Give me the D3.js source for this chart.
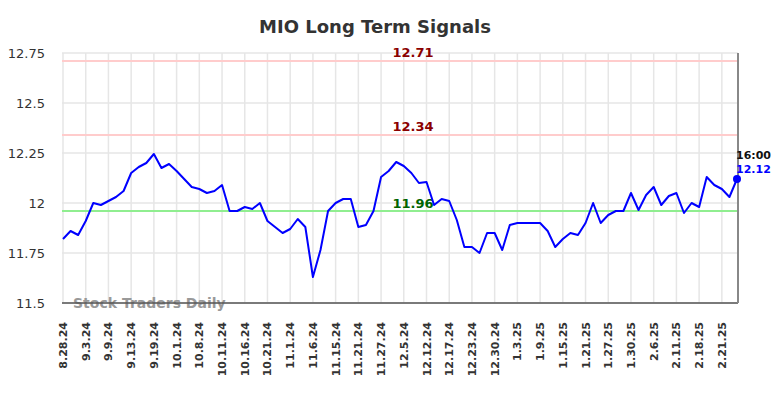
<!DOCTYPE html>
<html>
<head>
<meta charset="utf-8">
<script src="https://cdn.jsdelivr.net/npm/d3@7"></script>
<style>
  body { margin: 0; background: #fff; }
  svg { display: block; font-family: "DejaVu Sans", sans-serif; }
</style>
</head>
<body>
<div id="chart"></div>
<script>
// MIO long term signals, one line + three signal levels

const tickLabels = [
  "8.28.24", "9.3.24", "9.9.24", "9.13.24", "9.19.24", "10.1.24", "10.8.24", "10.11.24",
  "10.16.24", "10.21.24", "11.1.24", "11.6.24", "11.15.24", "11.21.24", "11.27.24",
  "12.5.24", "12.12.24", "12.17.24", "12.23.24", "12.30.24", "1.3.25", "1.9.25",
  "1.15.25", "1.21.25", "1.27.25", "1.30.25", "2.6.25", "2.11.25", "2.18.25", "2.21.25"
];
const tickEvery = 3; // one label per 3 sessions

const prices = [
  11.82, 11.86, 11.84, 11.91, 12.00, 11.99, 12.01, 12.03, 12.06, 12.15,
  12.18, 12.20, 12.245, 12.175, 12.195, 12.16, 12.12, 12.08, 12.07, 12.05,
  12.06, 12.09, 11.96, 11.96, 11.98, 11.97, 12.00, 11.91, 11.88, 11.85,
  11.87, 11.92, 11.88, 11.63, 11.765, 11.96, 12.00, 12.02, 12.02, 11.88,
  11.89, 11.96, 12.13, 12.16, 12.205, 12.185, 12.15, 12.10, 12.105, 11.99,
  12.02, 12.01, 11.915, 11.78, 11.78, 11.75, 11.85, 11.85, 11.765, 11.89,
  11.90, 11.90, 11.90, 11.90, 11.86, 11.78, 11.82, 11.85, 11.84, 11.90,
  12.00, 11.90, 11.94, 11.96, 11.96, 12.05, 11.965, 12.04, 12.08, 11.99,
  12.035, 12.05, 11.95, 12.00, 11.98, 12.13, 12.09, 12.07, 12.03, 12.12
];

const resistLevels = [12.71, 12.34];
const supportLevels = [11.96];
const yTicks = [11.5, 11.75, 12, 12.25, 12.5, 12.75];
const lastTime = "16:00";

const width = 784, height = 398;
const margin = { top: 53, right: 47, bottom: 95, left: 63 };

const svg = d3.select("#chart").append("svg")
  .attr("width", width)
  .attr("height", height);

const x = d3.scaleLinear()
  .domain([0, prices.length - 1])
  .range([margin.left, width - margin.right]);

const y = d3.scaleLinear()
  .domain([11.5, 12.75])
  .range([height - margin.bottom, margin.top]);

const plotL = margin.left - 1, plotR = width - margin.right + 1;

// title
svg.append("text")
  .attr("x", 375)
  .attr("y", 33)
  .attr("text-anchor", "middle")
  .attr("fill", "#333")
  .attr("font-size", 18)
  .attr("font-weight", 700)
  .text("MIO Long Term Signals");

// grid, horizontal
svg.append("g").selectAll("line")
  .data(yTicks)
  .join("line")
  .attr("x1", plotL).attr("x2", plotR)
  .attr("y1", d => y(d)).attr("y2", d => y(d))
  .attr("stroke", "#e6e6e6")
  .attr("stroke-width", 1.5);

// grid, vertical at tick positions
const tickIdx = tickLabels.map((d, i) => i * tickEvery);
svg.append("g").selectAll("line")
  .data(tickIdx)
  .join("line")
  .attr("x1", d => x(d)).attr("x2", d => x(d))
  .attr("y1", y(12.75)).attr("y2", y(11.5))
  .attr("stroke", "#e6e6e6")
  .attr("stroke-width", 1.5);

// y labels
svg.append("g").selectAll("text")
  .data(yTicks)
  .join("text")
  .attr("x", 45)
  .attr("y", d => y(d) + 5)
  .attr("text-anchor", "end")
  .attr("fill", "#333")
  .attr("font-size", 13)
  .text(d => d3.format("")(d));

// watermark
svg.append("text")
  .attr("x", 73)
  .attr("y", y(11.5) + 5)
  .attr("fill", "#999")
  .attr("font-size", 14)
  .attr("font-weight", 700)
  .text("Stock Traders Daily");

// signal lines
const levelX = 413;
resistLevels.forEach(v => {
  svg.append("line")
    .attr("x1", plotL).attr("x2", plotR)
    .attr("y1", y(v)).attr("y2", y(v))
    .attr("stroke", "#ffcccc")
    .attr("stroke-width", 2);
  svg.append("text")
    .attr("x", levelX).attr("y", y(v) - 4)
    .attr("text-anchor", "middle")
    .attr("fill", "#8b0000")
    .attr("font-size", 13)
    .attr("font-weight", 700)
    .text(v.toFixed(2));
});
supportLevels.forEach(v => {
  svg.append("line")
    .attr("x1", plotL).attr("x2", plotR)
    .attr("y1", y(v)).attr("y2", y(v))
    .attr("stroke", "#90ee90")
    .attr("stroke-width", 2);
  svg.append("text")
    .attr("x", levelX).attr("y", y(v) - 3)
    .attr("text-anchor", "middle")
    .attr("fill", "#006400")
    .attr("font-size", 13)
    .attr("font-weight", 700)
    .text(v.toFixed(2));
});

// axis frame: bottom + right
svg.append("line")
  .attr("x1", plotL).attr("x2", plotR)
  .attr("y1", y(11.5)).attr("y2", y(11.5))
  .attr("stroke", "#555")
  .attr("stroke-width", 1.5);
svg.append("line")
  .attr("x1", x(prices.length - 1) + 1).attr("x2", x(prices.length - 1) + 1)
  .attr("y1", y(12.75)).attr("y2", y(11.5))
  .attr("stroke", "#888")
  .attr("stroke-width", 2);

// x labels, rotated
svg.append("g").selectAll("text")
  .data(tickLabels)
  .join("text")
  .attr("transform", (d, i) => `translate(${x(i * tickEvery) + 4},${y(11.5) + 19}) rotate(-90)`)
  .attr("text-anchor", "end")
  .attr("fill", "#333")
  .attr("font-size", 11)
  .attr("font-weight", 700)
  .text(d => d);

// price line
const line = d3.line()
  .x((d, i) => x(i))
  .y(d => y(d));

svg.append("path")
  .datum(prices)
  .attr("d", line)
  .attr("fill", "none")
  .attr("stroke", "#0000ff")
  .attr("stroke-width", 2)
  .attr("stroke-linejoin", "round");

// last point
const lastI = prices.length - 1;
const lastV = prices[lastI];
svg.append("circle")
  .attr("cx", x(lastI)).attr("cy", y(lastV))
  .attr("r", 4)
  .attr("fill", "#0000ff");

svg.append("text")
  .attr("x", x(lastI) - 1).attr("y", y(lastV) - 20)
  .attr("fill", "#111")
  .attr("font-size", 11)
  .attr("font-weight", 700)
  .text(lastTime);
svg.append("text")
  .attr("x", x(lastI) - 1).attr("y", y(lastV) - 6)
  .attr("fill", "#0000ff")
  .attr("font-size", 11)
  .attr("font-weight", 700)
  .text(lastV.toFixed(2));
</script>
</body>
</html>
